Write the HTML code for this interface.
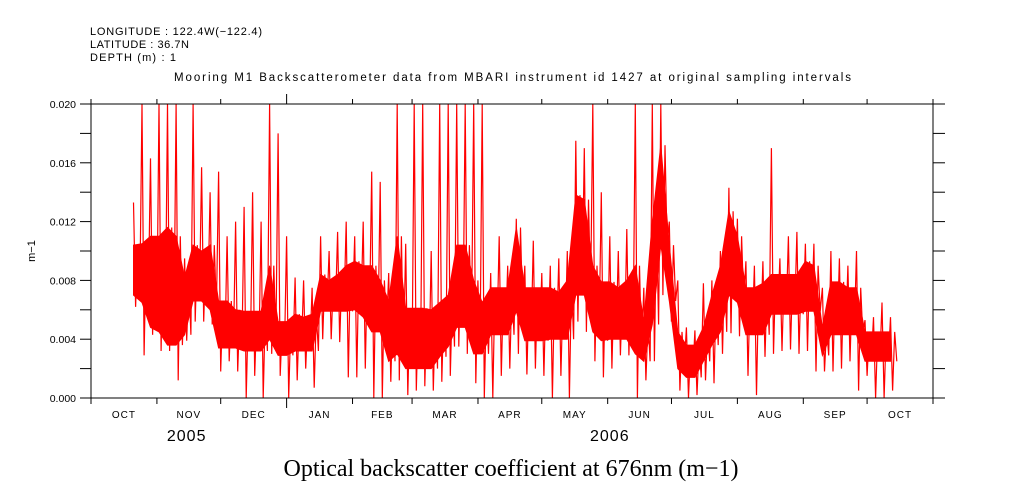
<!DOCTYPE html>
<html><head><meta charset="utf-8"><style>
html,body{margin:0;padding:0;background:#fff;}
svg{display:block;font-family:"Liberation Sans",sans-serif;}
</style></head><body>
<svg id="chart" width="1009" height="504" viewBox="0 0 1009 504" xmlns="http://www.w3.org/2000/svg">
<g font-size="11" fill="#000">
<text x="90" y="35" textLength="172" lengthAdjust="spacing">LONGITUDE : 122.4W(−122.4)</text>
<text x="90" y="48" textLength="99" lengthAdjust="spacing">LATITUDE : 36.7N</text>
<text x="90" y="61" textLength="86" lengthAdjust="spacing">DEPTH (m) : 1</text>
</g>
<text x="174" y="81" textLength="677" lengthAdjust="spacing" font-size="11.5">Mooring M1 Backscatterometer data from MBARI instrument id 1427 at original sampling intervals</text>
<g id="plot"></g>
<g id="axes"></g>
<text x="511" y="476" text-anchor="middle" font-family="'Liberation Serif',serif" font-size="24">Optical backscatter coefficient at 676nm (m−1)</text>
<text transform="translate(35,251) rotate(-90)" text-anchor="middle" font-size="11">m−1</text>
</svg>
<script>
// days since 2005-10-01
const days = [20,24,28,32,36,40,44,48,52,56,60,64,68,72,76,80,84,88,92,96,100,104,108,112,116,120,124,128,132,136,140,144,148,152,156,160,164,168,172,176,180,184,188,192,196,200,204,208,212,216,220,224,228,232,236,240,244,248,252,256,260,264,268,272,276,280,284,288,292,296,300,304,308,312,316,320,324,328,332,336,340,344,348,352,356,360,364,368,372,376];
// values in units of 0.001 m-1
const coreLo = [7.0,6.5,4.8,4.5,3.6,3.6,4.3,6.6,6.6,6.0,3.4,3.4,3.4,3.2,3.2,3.2,4.0,2.9,2.9,3.2,3.2,3.2,5.9,5.9,5.9,5.9,6.0,5.5,4.5,4.5,2.5,3.0,2.0,2.0,2.0,2.0,2.8,3.5,4.8,4.8,3.0,3.0,4.3,4.3,4.3,5.9,3.9,3.9,3.9,4.0,4.0,4.0,7.0,7.0,4.5,3.9,4.0,4.0,4.0,3.0,2.5,5.0,10.4,6.6,2.0,1.4,1.4,2.5,3.6,4.5,7.0,6.5,4.3,4.3,4.3,5.7,5.7,5.7,5.7,5.9,5.9,2.9,4.3,4.3,4.3,4.3,2.5,2.5,2.5,2.5];
const coreHi = [10.4,10.5,11,11,11.6,11,8.2,10.4,10,10.4,6.6,6.6,6.0,5.9,5.9,5.9,9.0,5.2,5.2,5.7,5.5,5.7,8.4,8.0,8.4,9.0,9.3,9.0,9.0,8.0,6.6,11,6.1,6.1,6.1,6.0,6.5,7.0,10.4,10.4,8.0,6.5,7.5,7.5,7.5,11.6,7.5,7.5,7.5,7.5,7.2,8.0,13.8,13.5,9,7.9,7.9,7.5,8.0,9.0,5.2,12,17.2,10.4,4.5,3.6,3.6,4.8,7.0,9,12.7,11,7.5,7.5,7.8,8.4,8.4,8.4,8.4,9.3,9.0,4.8,7.9,7.9,7.5,7.5,4.5,4.5,4.5,4.5];
const lowVals = [6.2,2.9,4.3,3.2,3.2,1.2,3.9,5.2,5.2,5.0,1.8,2.5,1.8,0,1.5,0,3.0,1.5,0,1.2,2.0,0.7,4.0,4.0,3.8,1.4,1.4,2.0,0,0,1.1,1.2,0.2,0.5,0.8,0.5,1.1,1.5,3.5,3.0,1.0,0,0,1.5,2.0,3.0,1.6,2.0,1.5,0,1.5,0,5.2,4.5,2.5,1.4,2.0,2.9,2.9,0,1.2,2.5,7.0,5.2,0.5,0,0.2,1.2,1.0,3.0,4.4,4.2,1.5,0.2,2.8,3.0,3.2,3.3,3.0,3.2,1.8,1.8,1.8,2.0,2.5,0.5,1.5,0,0,0.5];
const highVals = [13.3,20,16.3,20,20,20,9.5,20,15.7,14,15.4,11,12,13,14,12,20,18,11,8.2,8,7.5,11,10,11.3,12,11,12,15.4,14.7,8.5,20,10.5,20,20,10,20,20,20,20,20,20,8.5,11,9,12.2,9,10.7,8.5,9,9.5,10,17.5,17,20,14,11,10,11.5,20,7.5,20,20,12,8,4.8,4.6,7.8,8,10,14.3,12.2,9.3,9,9.3,17,9.5,11,11.3,10.5,10.5,7.5,10,9.5,9,10,5.3,5.5,6.5,5.5];
const yTickVals = [0,0.004,0.008,0.012,0.016,0.020];
const yTickLabels = ["0.000","0.004","0.008","0.012","0.016","0.020"];
const monthNames = ["OCT","NOV","DEC","JAN","FEB","MAR","APR","MAY","JUN","JUL","AUG","SEP","OCT"];
const monthStarts = [0,31,61,92,123,151,182,212,243,273,304,335,365,396];
const yearLabels = ["2005","2006"];
const yearDays = [45,244];

const NS="http://www.w3.org/2000/svg";
const X0=91,X1=933,Y0=398,Y1=104,D0=0,D1=396;
const xs=d=>X0+(d-D0)/(D1-D0)*(X1-X0);
const ys=v=>Y0-(v/0.020)*(Y0-Y1);
function mk(tag,attrs,parent){const e=document.createElementNS(NS,tag);for(const k in attrs)e.setAttribute(k,attrs[k]);parent.appendChild(e);return e;}
const plotG=document.getElementById('plot'),axesG=document.getElementById('axes');

const upperPts=[],lowerPts=[];
for(let i=0;i<days.length;i++){
  upperPts.push(xs(days[i]).toFixed(1)+','+ys(coreHi[i]/1000).toFixed(1));
  lowerPts.unshift(xs(days[i]).toFixed(1)+','+ys(coreLo[i]/1000).toFixed(1));
}
const band=mk('polygon',{points:upperPts.concat(lowerPts).join(' '),fill:'#ff0000',stroke:'#ff0000','stroke-width':1},plotG);


const zz=[];
for(let i=0;i<days.length;i++){
  const x=xs(days[i]);
  zz.push(x.toFixed(1)+','+ys(highVals[i]/1000).toFixed(1));
  zz.push((x+2.1).toFixed(1)+','+ys(lowVals[i]/1000).toFixed(1));
  zz.push((x+4.2).toFixed(1)+','+ys(coreHi[i]/1000).toFixed(1));
  zz.push((x+6.3).toFixed(1)+','+ys(coreLo[i]/1000).toFixed(1));
}
const line=mk('polyline',{points:zz.join(' '),fill:'none',stroke:'#ff0000','stroke-width':1.2},plotG);



const fr=mk('rect',{x:X0,y:Y1,width:X1-X0,height:Y0-Y1,fill:'none',stroke:'#000','stroke-width':1},axesG);


for(let v=0;v<=10;v++){
  const y=ys(v*0.002);
  const a=mk('line',{x1:X0-11,x2:X0,y1:y,y2:y,stroke:'#000'},axesG);
  
  
  const b=mk('line',{x1:X1,x2:X1+12,y1:y,y2:y,stroke:'#000'},axesG);
  
  
}
yTickVals.forEach((v,i)=>{
  const t=mk('text',{x:76,y:ys(v)+4,'text-anchor':'end','font-size':10.5},axesG);
  t.textContent=yTickLabels[i];
  
  
});
monthStarts.forEach(d=>{
  const x=xs(d);
  const big=(d===92);
  const a=mk('line',{x1:x,x2:x,y1:big?94:99,y2:Y1,stroke:'#000'},axesG);
  
  
  const b=mk('line',{x1:x,x2:x,y1:Y0,y2:big?408:404,stroke:'#000'},axesG);
  
  
});
monthNames.forEach((m,i)=>{
  const mid=(monthStarts[i]+monthStarts[i+1])/2;
  const t=mk('text',{x:xs(mid),y:418,'text-anchor':'middle','font-size':10,'letter-spacing':1},axesG);
  t.textContent=m;
  
  
});
yearLabels.forEach((y,i)=>{
  const t=mk('text',{x:xs(yearDays[i]),y:441,'text-anchor':'middle','font-size':16,'letter-spacing':1},axesG);
  t.textContent=y;
  
  
});
</script>
</body></html>
